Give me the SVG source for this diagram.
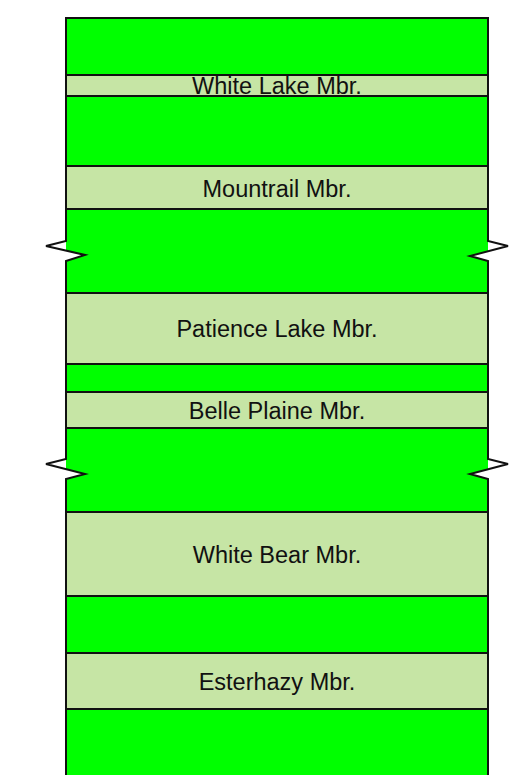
<svg xmlns="http://www.w3.org/2000/svg" width="526" height="775" viewBox="0 0 526 775">
<style>
.g{fill:#00ff00}
.l{fill:#c6e5a5}
.b{stroke:#111;stroke-width:2;fill:none}
.cut{fill:#fff;stroke:none}
text{font-family:"Liberation Sans",Arial,sans-serif;font-size:23.5px;fill:#111;text-anchor:middle}
</style>
<rect x="0" y="0" width="526" height="775" fill="#fff"/>
<g id="layer1"><rect class="g" x="66" y="18" width="422" height="57"/></g>
<g id="white-lake"><rect class="l" x="66" y="75" width="422" height="21"/><text x="277" y="93.5">White Lake Mbr.</text></g>
<g id="layer3"><rect class="g" x="66" y="96" width="422" height="70"/></g>
<g id="mountrail"><rect class="l" x="66" y="166" width="422" height="43"/><text x="277" y="196.5">Mountrail Mbr.</text></g>
<g id="layer5"><rect class="g" x="66" y="209" width="422" height="84"/></g>
<g id="patience-lake"><rect class="l" x="66" y="293" width="422" height="71"/><text x="277" y="337">Patience Lake Mbr.</text></g>
<g id="layer7"><rect class="g" x="66" y="364" width="422" height="28"/></g>
<g id="belle-plaine"><rect class="l" x="66" y="392" width="422" height="36"/><text x="277" y="418.5">Belle Plaine Mbr.</text></g>
<g id="layer9"><rect class="g" x="66" y="428" width="422" height="84"/></g>
<g id="white-bear"><rect class="l" x="66" y="512" width="422" height="84"/><text x="277" y="562.5">White Bear Mbr.</text></g>
<g id="layer11"><rect class="g" x="66" y="596" width="422" height="57"/></g>
<g id="esterhazy"><rect class="l" x="66" y="653" width="422" height="56"/><text x="277" y="689.5">Esterhazy Mbr.</text></g>
<g id="layer13"><rect class="g" x="66" y="709" width="422" height="70"/></g>
<g id="outline">
<polygon class="cut" points="66,241 46,246 85,255 66,261"/>
<polygon class="cut" points="488,241 508,246 470,256 488,261"/>
<polygon class="cut" points="66,459 46,464 85,474 66,479"/>
<polygon class="cut" points="488,459 508,464 470,474 488,479"/>
<path class="b" d="M66,18H488M66,75H488M66,96H488M66,166H488M66,209H488M66,293H488M66,364H488M66,392H488M66,428H488M66,512H488M66,596H488M66,653H488M66,709H488"/>
<path class="b" d="M66,17V241L46,246L85,255L66,261V459L46,464L85,474L66,479V776"/>
<path class="b" d="M488,17V241L508,246L470,256L488,261V459L508,464L470,474L488,479V776"/>
</g>
<g id="connectors"/>
</svg>
